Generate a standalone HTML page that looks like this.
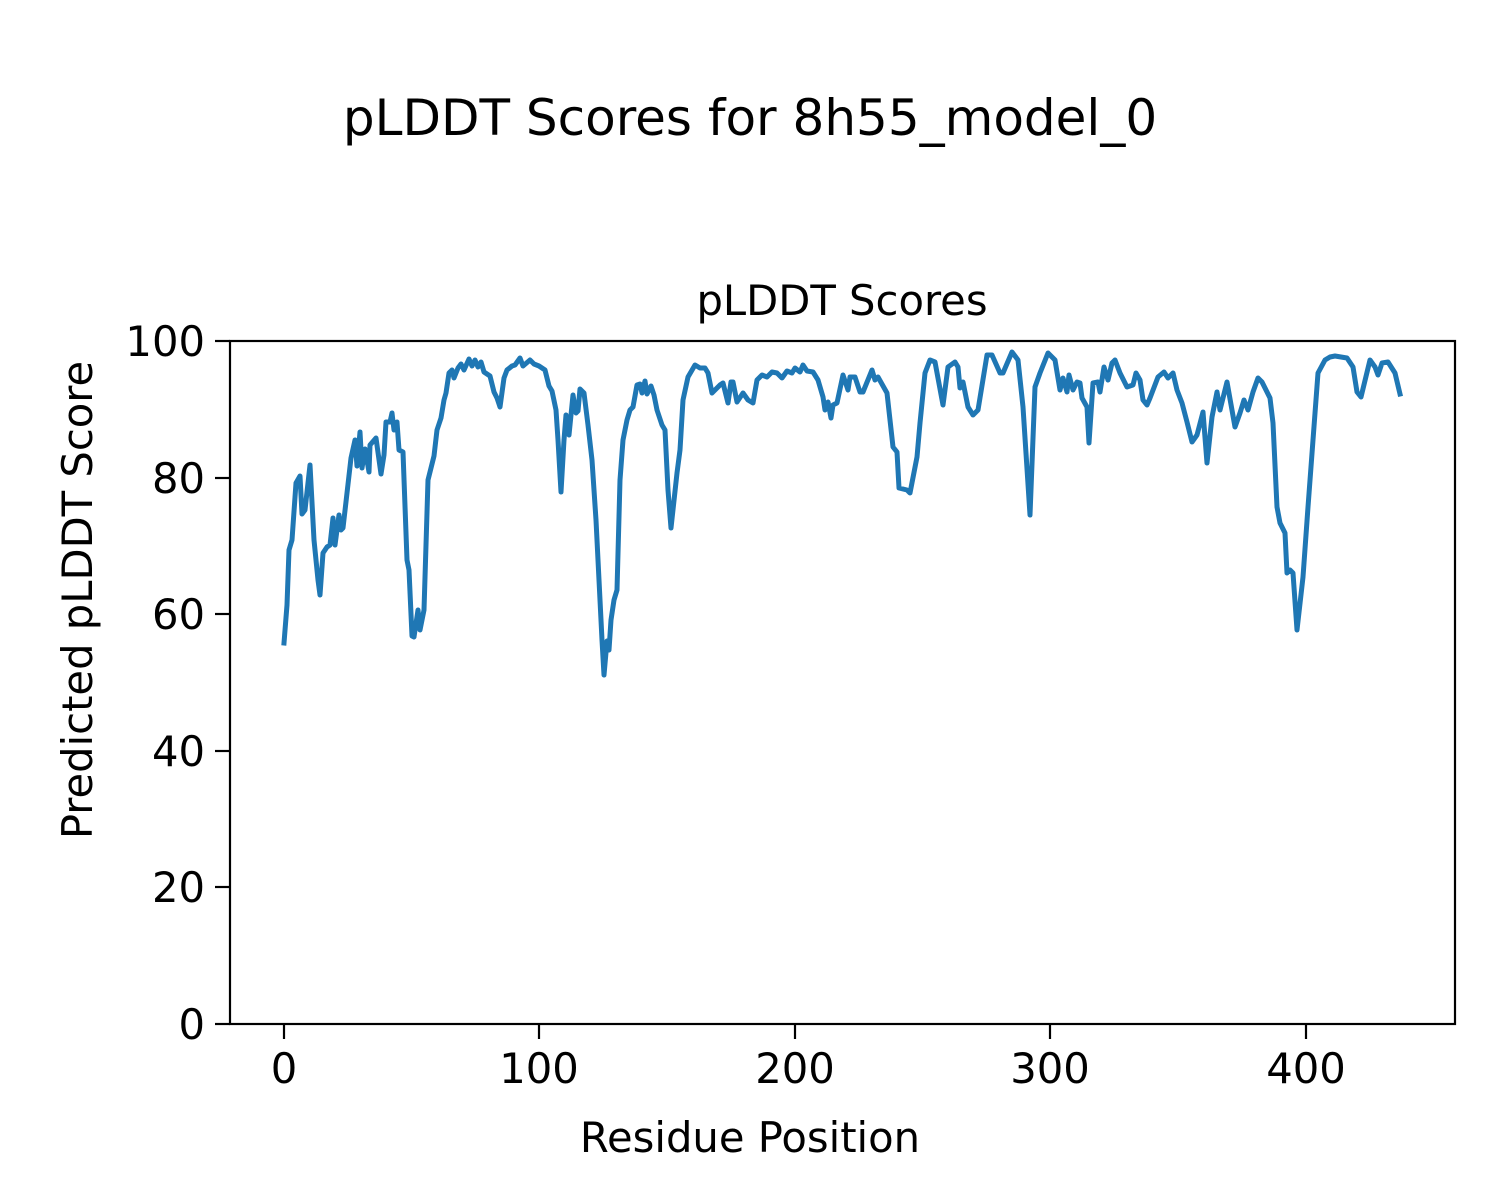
<!DOCTYPE html>
<html><head><meta charset="utf-8"><style>body{margin:0;background:#fff}svg{display:block}text{font-family:"DejaVu Sans","Liberation Sans",sans-serif;fill:#000}</style></head>
<body>
<svg width="1500" height="1200" viewBox="0 0 1500 1200" xmlns="http://www.w3.org/2000/svg">
<rect width="1500" height="1200" fill="#fff"/>
<text x="750" y="135" font-size="50" text-anchor="middle">pLDDT Scores for 8h55_model_0</text>
<text x="842" y="315" font-size="41.7" text-anchor="middle">pLDDT Scores</text>
<polyline fill="none" stroke="#1f77b4" stroke-width="5" stroke-linejoin="round" stroke-linecap="square" points="284,643 287,605 289,550 292,540 296,483 300,476 302,514 305,510 310,465 314,540 318,580 320,595 323,553 327,547 330,545 333,518 335,545 339,515 341,530 343,528 347,493 351,458 355,440 357,466 360,432 362,468 365,449 369,472 370,445 376,438 381,474 384,455 386,422 390,422 392,413 394,430 397,422 399,450 403,452 407,560 409,570 412,636 414,637 418,610 420,630 424,610 428,480 434,456 437,430 441,418 444,400 446,393 449,373 452,370 454,378 458,368 461,364 464,370 469,359 472,366 475,360 478,367 481,362 484,372 490,376 494,392 497,398 500,407 504,378 507,370 512,366 515,365 520,358 523,366 530,360 534,364 539,366 545,370 549,386 552,391 556,410 558,440 561,492 564,440 566,415 569,435 573,395 576,413 578,411 580,389 584,393 588,425 592,460 596,520 599,580 602,640 604,675 607,641 609,650 611,620 614,600 617,590 620,480 623,440 627,420 630,410 633,407 637,385 640,384 642,393 645,381 647,394 651,386 654,395 657,410 662,425 665,430 668,490 671,528 677,473 680,450 683,400 688,377 695,365 700,368 705,368 708,373 712,393 720,385 723,383 728,403 731,382 733,382 737,402 743,393 748,400 753,403 757,380 762,375 767,377 772,372 777,373 782,378 787,371 792,373 795,368 800,372 803,365 807,371 813,372 818,380 823,397 825,410 828,402 831,418 833,405 837,403 843,375 848,390 850,377 855,377 860,392 863,392 872,370 875,380 878,377 887,393 893,447 897,452 899,488 907,490 910,493 917,457 920,423 925,373 930,360 935,362 943,405 948,367 955,362 958,367 960,388 963,382 968,407 973,415 978,410 987,355 992,355 1000,373 1003,373 1012,352 1018,360 1023,407 1030,515 1035,387 1040,373 1048,353 1055,360 1060,390 1063,378 1067,392 1069,375 1073,390 1077,382 1080,383 1082,398 1087,407 1089,443 1093,383 1098,382 1100,392 1104,367 1108,380 1112,363 1115,360 1120,373 1127,387 1133,385 1136,373 1140,380 1143,400 1147,405 1150,398 1158,377 1164,372 1168,378 1173,373 1177,390 1182,403 1187,422 1192,442 1197,435 1203,412 1207,463 1212,417 1217,392 1220,410 1227,382 1235,427 1240,413 1244,400 1248,410 1253,392 1258,378 1262,382 1270,398 1273,423 1277,507 1280,523 1285,533 1287,573 1290,570 1293,573 1297,630 1303,577 1308,507 1313,440 1318,373 1325,360 1330,357 1335,356 1347,358 1353,367 1357,392 1361,397 1370,360 1375,367 1378,375 1382,363 1388,362 1395,373 1400,394"/>
<rect x="230" y="341" width="1225" height="683" fill="none" stroke="#000" stroke-width="2.2"/>
<g stroke="#000" stroke-width="2.2">
<line x1="215" y1="341" x2="230" y2="341"/><line x1="215" y1="478" x2="230" y2="478"/><line x1="215" y1="614" x2="230" y2="614"/><line x1="215" y1="751" x2="230" y2="751"/><line x1="215" y1="887" x2="230" y2="887"/><line x1="215" y1="1024" x2="230" y2="1024"/>
<line x1="284" y1="1024" x2="284" y2="1039"/><line x1="539" y1="1024" x2="539" y2="1039"/><line x1="795" y1="1024" x2="795" y2="1039"/><line x1="1050" y1="1024" x2="1050" y2="1039"/><line x1="1306" y1="1024" x2="1306" y2="1039"/>
</g>
<g font-size="41.7" text-anchor="end">
<text x="205" y="356">100</text><text x="205" y="493">80</text><text x="205" y="629">60</text><text x="205" y="766">40</text><text x="205" y="902">20</text><text x="205" y="1039">0</text>
</g>
<g font-size="41.7" text-anchor="middle">
<text x="284" y="1083">0</text><text x="539" y="1083">100</text><text x="795" y="1083">200</text><text x="1050" y="1083">300</text><text x="1306" y="1083">400</text>
</g>
<text x="750" y="1152" font-size="41.7" text-anchor="middle">Residue Position</text>
<text transform="translate(92,600) rotate(-90)" font-size="41.7" text-anchor="middle">Predicted pLDDT Score</text>
</svg>
</body></html>
